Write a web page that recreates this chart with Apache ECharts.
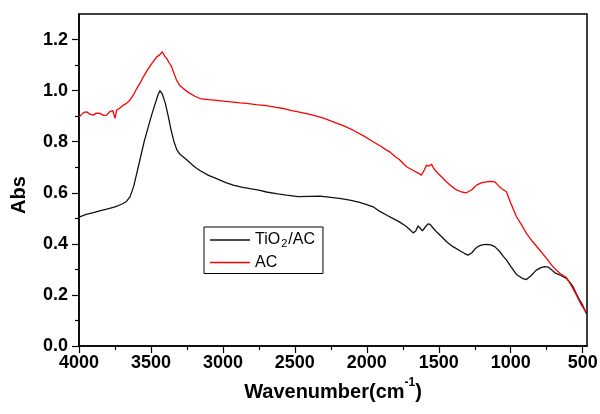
<!DOCTYPE html>
<html>
<head>
<meta charset="utf-8">
<script src="https://cdn.jsdelivr.net/npm/echarts@6/dist/echarts.min.js"></script>
<style>
html,body{margin:0;padding:0;background:#fff;}
#chart{width:600px;height:414px;}
</style>
</head>
<body>
<div id="chart"></div>
<script>
// ---- data ----
var xTickValues = [4000, 3500, 3000, 2500, 2000, 1500, 1000, 500];
var xMinorValues = [3750, 3250, 2750, 2250, 1750, 1250, 750];
var yTickValues = [0, 0.2, 0.4, 0.6, 0.8, 1.0, 1.2];
var yMinorValues = [0.1, 0.3, 0.5, 0.7, 0.9, 1.1];

var tio2Wavenumber = [4000,3950,3900,3850,3800,3750,3700,3670,3645,3620,3595,3570,3545,3520,3495,3470,3450,3437,3420,3400,3380,3360,3340,3320,3300,3250,3200,3160,3100,3044,2980,2928,2870,2812,2750,2697,2620,2558,2477,2400,2326,2250,2180,2118,2050,2000,1956,1910,1860,1817,1771,1730,1700,1678,1660,1644,1630,1614,1595,1575,1560,1540,1516,1480,1440,1401,1350,1320,1297,1270,1245,1227,1200,1169,1140,1111,1080,1050,1030,1000,960,920,891,860,822,790,764,740,715,690,650,613,590,567,545,521,500,485,472];
var tio2Abs = [0.505,0.515,0.522,0.530,0.537,0.545,0.556,0.566,0.585,0.625,0.685,0.745,0.805,0.855,0.905,0.950,0.985,1.000,0.985,0.950,0.900,0.845,0.800,0.768,0.752,0.728,0.703,0.687,0.668,0.655,0.640,0.630,0.622,0.616,0.610,0.603,0.596,0.591,0.585,0.586,0.587,0.582,0.577,0.571,0.562,0.554,0.545,0.527,0.512,0.499,0.485,0.470,0.455,0.443,0.450,0.470,0.462,0.451,0.465,0.478,0.476,0.462,0.447,0.428,0.405,0.389,0.372,0.362,0.356,0.365,0.382,0.390,0.396,0.398,0.396,0.389,0.372,0.350,0.337,0.312,0.280,0.265,0.260,0.275,0.297,0.307,0.311,0.309,0.298,0.285,0.276,0.265,0.250,0.232,0.205,0.180,0.160,0.140,0.125];

var acWavenumber = [4000,3981,3965,3947,3925,3901,3880,3854,3830,3808,3785,3765,3750,3738,3720,3692,3670,3646,3620,3599,3575,3553,3525,3495,3475,3460,3440,3421,3405,3391,3375,3356,3340,3322,3300,3275,3250,3229,3195,3160,3100,3044,2980,2928,2880,2836,2770,2697,2640,2581,2530,2477,2420,2373,2300,2234,2160,2095,2020,1956,1900,1863,1840,1800,1776,1724,1680,1640,1620,1600,1586,1570,1551,1535,1516,1480,1447,1410,1377,1340,1308,1270,1238,1200,1169,1140,1111,1085,1065,1030,1000,960,920,891,850,799,750,706,660,613,580,544,510,475];
var acAbs = [0.897,0.907,0.915,0.917,0.908,0.904,0.912,0.911,0.903,0.904,0.918,0.922,0.891,0.924,0.930,0.943,0.950,0.963,0.985,1.008,1.030,1.054,1.080,1.106,1.120,1.132,1.140,1.152,1.135,1.126,1.110,1.093,1.068,1.041,1.020,1.008,0.997,0.989,0.978,0.969,0.965,0.962,0.958,0.955,0.952,0.950,0.945,0.941,0.935,0.930,0.923,0.917,0.910,0.904,0.892,0.878,0.862,0.845,0.822,0.800,0.781,0.767,0.760,0.740,0.731,0.702,0.688,0.676,0.669,0.690,0.708,0.704,0.712,0.695,0.682,0.662,0.643,0.625,0.611,0.603,0.600,0.612,0.630,0.640,0.643,0.645,0.643,0.628,0.617,0.604,0.560,0.506,0.470,0.441,0.410,0.376,0.342,0.310,0.285,0.268,0.238,0.200,0.162,0.132];

function pairs(xs, ys){ var out=[]; for(var i=0;i<xs.length;i++){ out.push([xs[i], ys[i]]); } return out; }

var FONT = 'Liberation Sans, Arial, sans-serif';
var chart = echarts.init(document.getElementById('chart'), null, {renderer:'canvas'});
var xCommon = {type:'value', min:470, max:4000, inverse:true, splitLine:{show:false}};
var yCommon = {type:'value', min:0, max:1.3, splitLine:{show:false}};

chart.setOption({
  animation:false,
  backgroundColor:'#fff',
  grid:{left:79, right:13, top:14, bottom:68, containLabel:false, outerBoundsMode:'none',
        show:true, borderColor:'#000', borderWidth:1.5, backgroundColor:'transparent'},
  legend:{
    orient:'vertical', left:204, top:227,
    padding:[5,8,3,6], itemGap:5,
    borderColor:'#000', borderWidth:1,
    itemWidth:40, itemHeight:1.5, icon:'rect',
    data:['TiO2/AC','AC'],
    formatter:function(n){ return n==='TiO2/AC' ? 'TiO{sub|2}/AC' : n; },
    textStyle:{fontSize:16, fontFamily:FONT, color:'#000',
      rich:{sub:{fontSize:11, fontFamily:FONT, color:'#000', padding:[8,1,0,1]}}}
  },
  xAxis:[
    Object.assign({}, xCommon, {
      position:'bottom',
      name:'{t|Wavenumber(cm}{sup|-1}{t|)}', nameLocation:'middle', nameGap:22,
      nameTextStyle:{fontSize:20, fontWeight:'bold', fontFamily:FONT, color:'#000',
        rich:{
          t:{fontSize:20, fontWeight:'bold', fontFamily:FONT, color:'#000', lineHeight:26, verticalAlign:'bottom'},
          sup:{fontSize:12, fontWeight:'bold', fontFamily:FONT, color:'#000', lineHeight:12, verticalAlign:'top'}
        }},
      axisLine:{show:true, lineStyle:{color:'#000', width:1.5}},
      axisTick:{show:true, inside:false, length:7, lineStyle:{color:'#000', width:1.2}, customValues:xTickValues},
      axisLabel:{show:true, margin:8, fontSize:18, fontWeight:'bold', fontFamily:FONT, color:'#000', customValues:xTickValues,
        formatter:function(v){ return String(Math.round(v)); }}
    }),
    Object.assign({}, xCommon, {
      position:'bottom', offset:0,
      axisLine:{show:false},
      axisTick:{show:true, inside:false, length:4, lineStyle:{color:'#000', width:1.2}, customValues:xMinorValues},
      axisLabel:{show:false}
    })
  ],
  yAxis:[
    Object.assign({}, yCommon, {
      position:'left',
      name:'Abs', nameLocation:'middle', nameGap:50,
      nameTextStyle:{fontSize:20, fontWeight:'bold', fontFamily:FONT, color:'#000', padding:[0,30,0,0]},
      axisLine:{show:true, lineStyle:{color:'#000', width:1.5}},
      axisTick:{show:true, inside:false, length:7, lineStyle:{color:'#000', width:1.2}, customValues:yTickValues},
      axisLabel:{show:true, margin:11, fontSize:18, fontWeight:'bold', fontFamily:FONT, color:'#000', customValues:yTickValues,
        formatter:function(v){ return v.toFixed(1); }}
    }),
    Object.assign({}, yCommon, {
      position:'left', offset:0,
      axisLine:{show:false},
      axisTick:{show:true, inside:false, length:4, lineStyle:{color:'#000', width:1.2}, customValues:yMinorValues},
      axisLabel:{show:false}
    })
  ],
  series:[
    {name:'TiO2/AC', type:'line', xAxisIndex:0, yAxisIndex:0, showSymbol:false, symbol:'none',
     lineStyle:{color:'#111', width:1.3}, itemStyle:{color:'#111'}, data:pairs(tio2Wavenumber, tio2Abs)},
    {name:'AC', type:'line', xAxisIndex:0, yAxisIndex:0, showSymbol:false, symbol:'none',
     lineStyle:{color:'#ff0000', width:1.3}, itemStyle:{color:'#ff0000'}, data:pairs(acWavenumber, acAbs)}
  ]
});
</script>
</body>
</html>
